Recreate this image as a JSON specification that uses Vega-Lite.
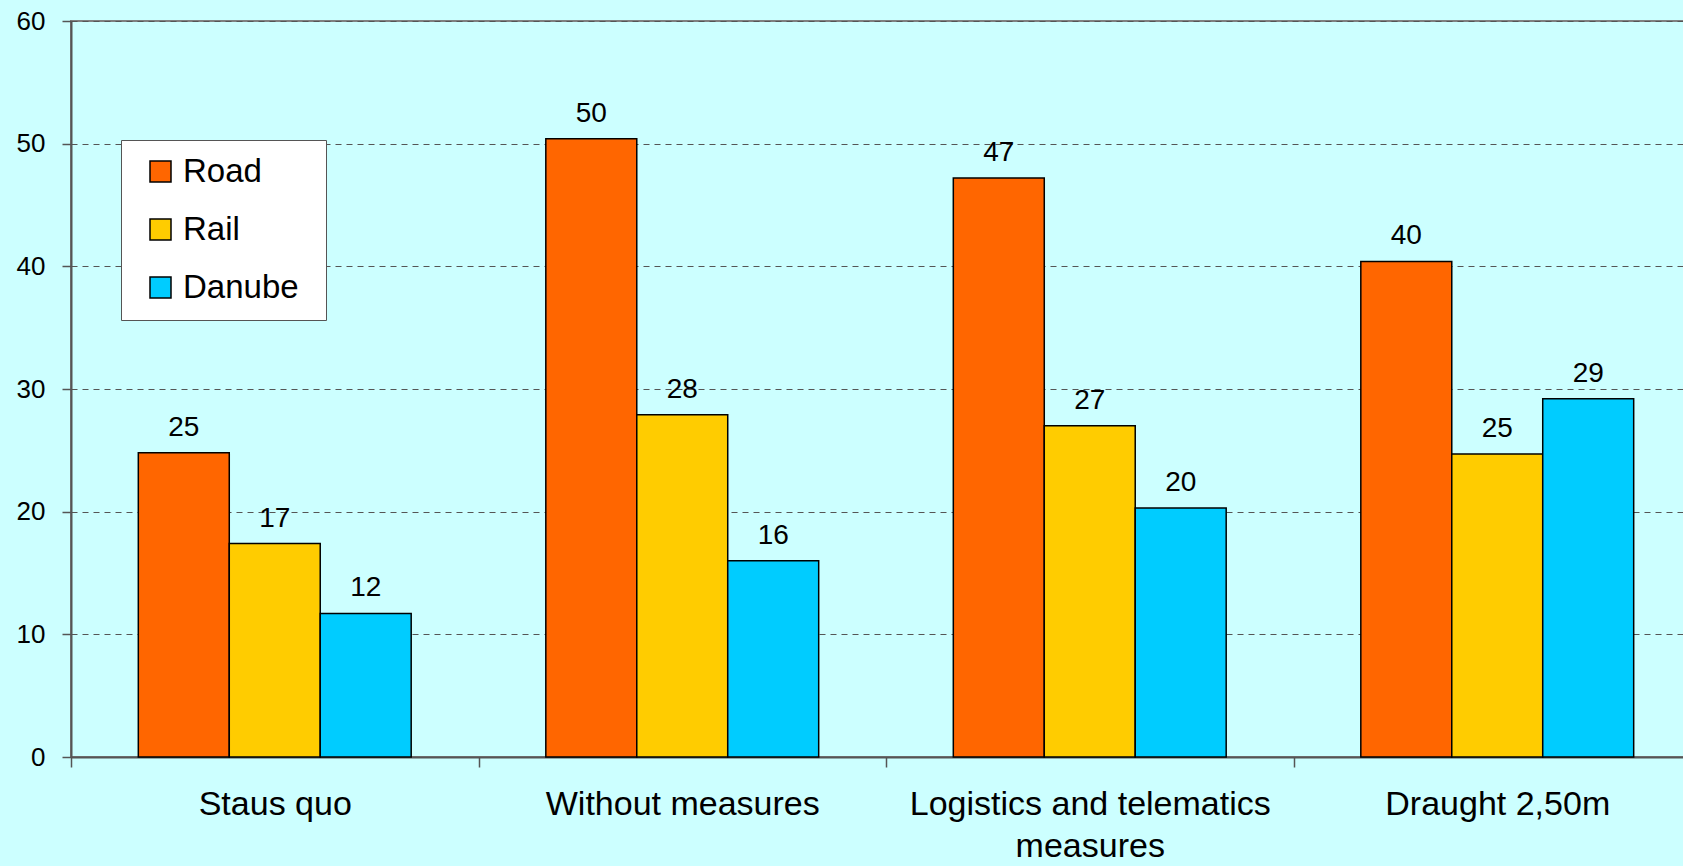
{
  "$schema": "https://vega.github.io/schema/vega-lite/v6.json",
  "autosize": {"type": "none"},
  "padding": {"left": 71, "top": 21, "right": 0, "bottom": 109},
  "width": 1630,
  "height": 736,
  "background": "#CCFFFF",
  "config": {
    "view": {"stroke": "#808080", "strokeWidth": 2, "fill": "#CCFFFF"},
    "font": "Liberation Sans"
  },
  "data": {
    "values": [
      {"scenario": "Staus quo", "mode": "Road", "value": 24.8},
      {"scenario": "Staus quo", "mode": "Rail", "value": 17.4},
      {"scenario": "Staus quo", "mode": "Danube", "value": 11.7},
      {"scenario": "Without measures", "mode": "Road", "value": 50.4},
      {"scenario": "Without measures", "mode": "Rail", "value": 27.9},
      {"scenario": "Without measures", "mode": "Danube", "value": 16.0},
      {"scenario": "Logistics and telematics measures", "mode": "Road", "value": 47.2},
      {"scenario": "Logistics and telematics measures", "mode": "Rail", "value": 27.0},
      {"scenario": "Logistics and telematics measures", "mode": "Danube", "value": 20.3},
      {"scenario": "Draught 2,50m", "mode": "Road", "value": 40.4},
      {"scenario": "Draught 2,50m", "mode": "Rail", "value": 24.7},
      {"scenario": "Draught 2,50m", "mode": "Danube", "value": 29.2}
    ]
  },
  "encoding": {
    "x": {
      "field": "scenario",
      "type": "nominal",
      "sort": null,
      "scale": {"paddingInner": 0, "paddingOuter": 0},
      "axis": {
        "title": null,
        "labelAngle": 0,
        "labelFontSize": 34,
        "labelColor": "#000000",
        "labelPadding": 20,
        "labelLineHeight": 42,
        "labelLimit": 600,
        "labelExpr": "datum.label == 'Logistics and telematics measures' ? ['Logistics and telematics', 'measures'] : datum.label",
        "tickBand": "extent",
        "tickSize": 10,
        "tickColor": "#555555",
        "domainColor": "#555555",
        "domainWidth": 2,
        "tickWidth": 1.5,
        "grid": false
      }
    },
    "xOffset": {"field": "mode", "type": "nominal", "sort": ["Road", "Rail", "Danube"], "scale": {"paddingInner": 0, "paddingOuter": 0.74}},
    "y": {
      "field": "value",
      "type": "quantitative",
      "scale": {"domain": [0, 60], "nice": false},
      "axis": {
        "title": null,
        "values": [0, 10, 20, 30, 40, 50, 60],
        "labelFontSize": 26,
        "labelColor": "#000000",
        "labelPadding": 17,
        "tickSize": 9,
        "tickColor": "#555555",
        "tickWidth": 1.5,
        "domainColor": "#555555",
        "domainWidth": 2,
        "grid": true,
        "gridColor": "#555555",
        "gridWidth": 1.2,
        "gridDash": [6, 5]
      }
    }
  },
  "layer": [
    {
      "mark": {"type": "bar", "stroke": "#000000", "strokeWidth": 1.5},
      "encoding": {
        "color": {
          "field": "mode",
          "type": "nominal",
          "sort": ["Road", "Rail", "Danube"],
          "scale": {"domain": ["Road", "Rail", "Danube"], "range": ["#FF6600", "#FFCC00", "#00CCFF"]},
          "legend": {
            "title": "\u00a0",
            "titleOrient": "right",
            "titleFontSize": 2,
            "titlePadding": 12,
            "orient": "none",
            "legendX": 50,
            "legendY": 119,
            "direction": "vertical",
            "fillColor": "#FFFFFF",
            "strokeColor": "#555555",
            "padding": 15,
            "symbolOffset": 8,
            "symbolType": "square",
            "symbolSize": 441,
            "symbolStrokeColor": "#000000",
            "symbolStrokeWidth": 1.5,
            "labelFontSize": 33,
            "labelColor": "#000000",
            "labelOffset": 6,
            "rowPadding": 24,
            "labelLimit": 300
          }
        }
      }
    },
    {
      "mark": {"type": "text", "baseline": "alphabetic", "dy": -17, "fontSize": 28, "color": "#000000"},
      "encoding": {
        "text": {"field": "value", "type": "quantitative", "format": ".0f"}
      }
    }
  ]
}
